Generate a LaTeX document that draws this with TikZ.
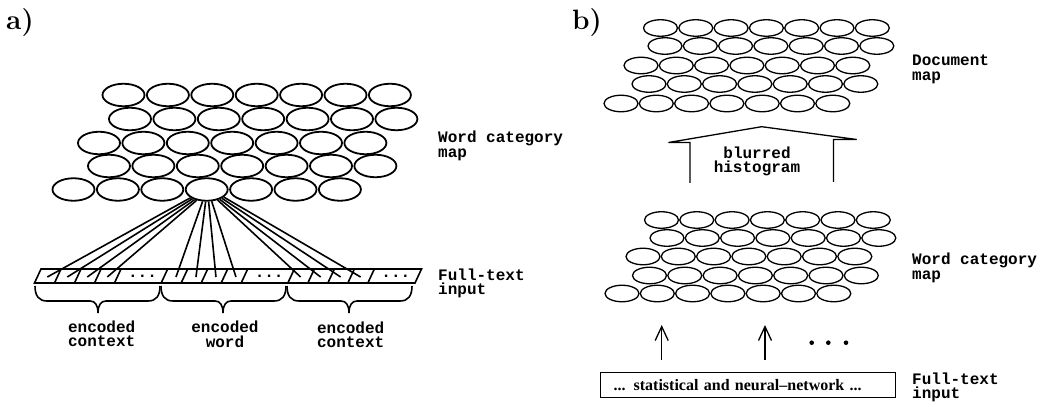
\documentclass[tikz,border=0pt]{standalone}
\usepackage{fontspec}
\newfontfamily\monofont{Liberation Mono}
\newfontfamily\timesfont{Liberation Serif}
\usetikzlibrary{shapes.geometric,arrows.meta}
\newcommand\tagfont{\monofont\bfseries\fontsize{16}{14.5}\selectfont}
\newcommand\panelfont{\bfseries\fontsize{28}{32}\selectfont}
\newcommand\boxfont{\timesfont\bfseries\fontsize{16}{18}\selectfont}
\begin{document}
\begin{tikzpicture}[x=1pt,y=-1pt,
  cella/.style={ellipse,draw,line width=1.8pt,minimum width=42pt,minimum height=22.5pt,inner sep=0pt},
  cellb/.style={ellipse,draw,line width=1.3pt,minimum width=34pt,minimum height=16.5pt,inner sep=0pt},
  % two-line labels are placed by the baseline of their last line
  tag/.style={font=\tagfont,align=left,anchor=base west,inner sep=0pt},
  ctag/.style={font=\tagfont,align=center,anchor=base,inner sep=0pt},
  panel/.style={font=\panelfont,anchor=base west,inner sep=0pt},
  wire/.style={line width=1.6pt},
  thinline/.style={line width=1.3pt}]
\useasboundingbox (0,0) rectangle (1042,406);

% ---------------- panel a ----------------
\node[panel] (pa) at (6,30) {a)};

% word category map
\foreach \r/\y/\x in {1/95/123.5, 2/119/130, 3/143/99, 4/166/109, 5/189.5/73.5}
  \foreach \k in {1,...,7}
    \node[cella] (a-\r-\k) at ({\x+(\k-1)*44.4},\y) {};

% input bar with three groups of cells
\draw[wire,line join=miter] (34.5,283) -- (41,269) -- (421.5,269) -- (415,283) -- cycle;
\foreach \g in {0,1,2}{
  \foreach \k in {1,...,4}
    \draw[wire] ({41+\g*126.67+20*\k},269) -- ({34.5+\g*126.67+20*\k},283);
  \node[font=\tagfont,anchor=base,inner sep=0pt] (dots-\g) at ({41+\g*126.67+101.5},277.5) {...};
}
\foreach \g in {1,2}
  \draw[wire] ({41+\g*126.67},269) -- ({34.5+\g*126.67},283);

% end points of the connections inside the cells
\foreach \g/\s in {0/0,1/2,2/0}
  \foreach \k in {1,...,4}
    \coordinate (e-\g-\k) at ({41+\g*126.67+20*\k-13.7+\s},277);

% connections from the winning unit to the input cells
\foreach \k/\ang in {1/207,2/213.5,3/220,4/227}
  \draw[wire] (a-5-4.\ang) -- (e-0-\k);
\foreach \k/\ang in {1/251,2/265,3/279.5,4/293}
  \draw[wire] (a-5-4.\ang) -- (e-1-\k);
\foreach \k/\ang in {1/316.5,2/323,3/330,4/336}
  \draw[wire] (a-5-4.\ang) -- (e-2-\k);

% braces under the groups
\foreach \a/\m/\b in {35/98/160, 161/223/286, 287/349/412}
  \draw[wire] (\a,286) .. controls (\a,296) and (\a+4,301) .. (\a+12,301)
     -- (\m-8,301) .. controls (\m-3,301) and (\m,305) .. (\m,313)
     .. controls (\m,305) and (\m+3,301) .. (\m+8,301)
     -- (\b-12,301) .. controls (\b-4,301) and (\b,296) .. (\b,286);

\node[ctag] (enc1) at (101.7,346.5) {encoded\\context};
\node[ctag] (enc2) at (225,347) {encoded\\word};
\node[ctag] (enc3) at (350.7,347.5) {encoded\\context};

\node[tag] (wcma) at (438,157.5) {Word category\\map};
\node[tag] (ftia) at (438,294.5) {Full-text\\input};

% ---------------- panel b ----------------
\node[panel] (pb) at (572,30) {b)};

% document map
\foreach \r/\y/\x in {1/28/660.5, 2/46/665, 3/65.5/641, 4/84/649, 5/103.5/621}
  \foreach \k in {1,...,7}
    \node[cellb] (d-\r-\k) at ({\x+(\k-1)*35.3},\y) {};

% word category map
\foreach \r/\y/\x in {1/220/661.5, 2/238/667, 3/256.5/643, 4/275.5/649.5, 5/293.5/622}
  \foreach \k in {1,...,7}
    \node[cellb] (w-\r-\k) at ({\x+(\k-1)*35.3},\y) {};

% broad arrow between the maps
\draw[thinline,line join=miter] (690,183) -- (690,142.5) -- (668.5,142.5) -- (761.7,126.7)
   -- (856.7,139.5) -- (833.5,139.5) -- (833.5,182);
\node[ctag] (blur) at (757,172.8) {blurred\\histogram};

% text window and input arrows
\node[draw,thinline,anchor=west,minimum height=24.6pt,text width=269pt,inner xsep=13pt,
      inner ysep=0pt,align=left,font=\boxfont] (src) at (600,385)
      {... statistical and neural–network ...};
\coordinate (u1s) at (661.7,360);
\coordinate (u1e) at (661.7,325);
\coordinate (u2s) at (765,360);
\coordinate (u2e) at (765,325);
\draw[thinline,-{Straight Barb[length=14pt,width=13pt]}] (u1s) -- (u1e);
\draw[thinline,-{Straight Barb[length=14pt,width=13pt]}] (u2s) -- (u2e);
\foreach \x in {811.7,828.3,846}
  \fill (\x,342.7) circle[radius=2.3pt];

\node[tag] (docm) at (912,80.2) {Document\\map};
\node[tag] (wcmb) at (912,279.5) {Word category\\map};
\node[tag] (ftib) at (912,398.5) {Full-text\\input};
\end{tikzpicture}
\end{document}
